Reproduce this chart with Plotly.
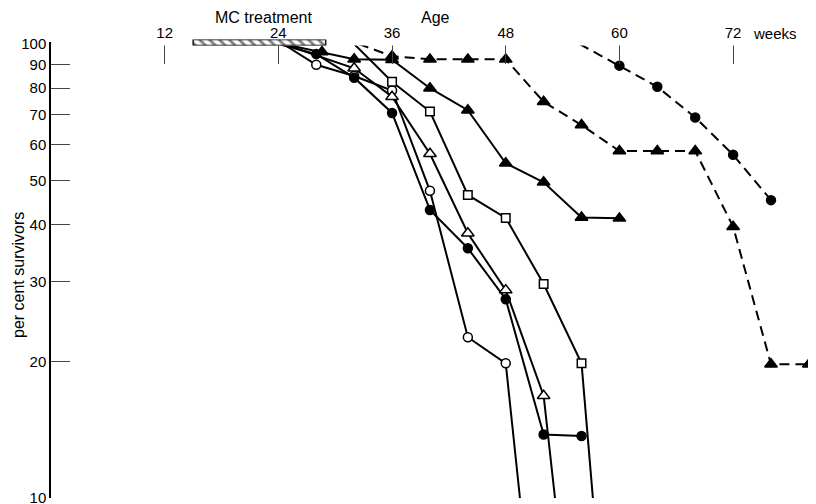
import plotly.graph_objects as go

# ---------------- data ----------------
x_ticks = [12, 24, 36, 48, 60, 72]
y_ticks = [10, 20, 30, 40, 50, 60, 70, 80, 90, 100]
y_ticktext = [str(v) for v in y_ticks]

treat_start = 15   # MC treatment period (weeks)
treat_end = 29

# open circles, solid line
oc_start = 24.5
oc_weeks = [28, 32, 36, 40, 44, 48]
oc_vals = [90, 85, 79, 47.5, 22.6, 19.8]
oc_end = 49.5

# filled circles, solid line
fc_start = 24
fc_weeks = [28, 32, 36, 40, 44, 48, 52, 56]
fc_vals = [95, 84.3, 70.5, 43.1, 35.5, 27.4, 13.8, 13.7]

# open triangles, solid line
ot_start = 24.5
ot_weeks = [32, 36, 40, 44, 48, 52]
ot_vals = [88.4, 76.5, 57.3, 38.3, 28.7, 16.8]
ot_end = 53.2

# open squares, solid line
sq_start = 32
sq_weeks = [36, 40, 44, 48, 52, 56]
sq_vals = [82.6, 71, 46.5, 41.4, 29.6, 19.8]
sq_end = 57.2

# filled triangles, solid line
ft_start = 24.5
ft_weeks = [28.6, 32, 36, 40, 44, 48, 52, 56, 60]
ft_vals = [96, 92.6, 92.3, 79.9, 71.5, 54.6, 49.6, 41.5, 41.3]

# filled triangles, dashed line
dt_start = 32.5
dt_weeks = [36, 40, 44, 48, 52, 56, 60, 64, 68, 72, 76, 80]
dt_vals = [94, 92.5, 92.5, 92.5, 74.6, 66.3, 58.1, 58.1, 58.1, 39.6, 19.7, 19.7]
dt_end = 81.3

# filled circles, dashed line
dc_start = 55.8
dc_weeks = [60, 64, 68, 72, 76]
dc_vals = [89.6, 80.5, 68.9, 57.0, 45.3]

Y_TOP = 100
Y_BOTTOM = 10

FONT = "Liberation Sans, Arial, Helvetica, sans-serif"

fig = go.Figure()

def add_line(xs, ys, dash):
    fig.add_trace(go.Scatter(x=xs, y=ys, mode="lines",
                             line=dict(color="black", width=2, dash=dash),
                             hoverinfo="skip", showlegend=False))

def add_markers(xs, ys, symbol, size, fill):
    fig.add_trace(go.Scatter(x=xs, y=ys, mode="markers",
                             marker=dict(symbol=symbol, size=size, color=fill,
                                         line=dict(color="black", width=1.5)),
                             cliponaxis=False, showlegend=False))

DASH = "10px,6px"
# lines
add_line([oc_start] + oc_weeks + [oc_end], [Y_TOP] + oc_vals + [Y_BOTTOM], "solid")
add_line([ot_start] + ot_weeks + [ot_end], [Y_TOP] + ot_vals + [Y_BOTTOM], "solid")
add_line([sq_start] + sq_weeks + [sq_end], [Y_TOP] + sq_vals + [Y_BOTTOM], "solid")
add_line([fc_start] + fc_weeks, [Y_TOP] + fc_vals, "solid")
add_line([ft_start] + ft_weeks, [Y_TOP] + ft_vals, "solid")
add_line([dt_start] + dt_weeks + [dt_end], [Y_TOP] + dt_vals + [Y_BOTTOM], DASH)
add_line([dc_start] + dc_weeks, [Y_TOP] + dc_vals, DASH)

# markers
add_markers(oc_weeks, oc_vals, "circle", 9, "white")
add_markers(ot_weeks, ot_vals, "triangle-up", 11, "white")
add_markers(sq_weeks, sq_vals, "square", 8.5, "white")
add_markers(ft_weeks, ft_vals, "triangle-up", 11, "black")
add_markers(fc_weeks, fc_vals, "circle", 9, "black")
add_markers(dt_weeks, dt_vals, "triangle-up", 11, "black")
add_markers(dc_weeks, dc_vals, "circle", 9, "black")

# treatment bar (hatched)
fig.add_trace(go.Bar(y=[0], x=[treat_end - treat_start], base=[treat_start],
                     orientation="h", width=1, xaxis="x2", yaxis="y2",
                     marker=dict(color="white",
                                 line=dict(color="black", width=1.3),
                                 pattern=dict(shape="\\", fgcolor="black",
                                              bgcolor="white", size=7,
                                              solidity=0.4)),
                     hoverinfo="skip", showlegend=False))

# The page body has an 8px margin: figure coords = page coords - 8.
W, H = 808, 496
PH = 490.0  # paper height (H - bottom margin)

def py(page_y):
    """paper y fraction from a page pixel row"""
    return (498 - page_y) / PH

fig.update_layout(
    width=W, height=H,
    margin=dict(l=43, r=0, t=0, b=6, pad=0, autoexpand=False),
    paper_bgcolor="white", plot_bgcolor="white",
    font=dict(family=FONT, size=15, color="black"),
    xaxis=dict(range=[0, 80.75], side="top", tickvals=x_ticks,
               ticktext=[str(v) for v in x_ticks],
               ticks="inside", ticklen=20, tickwidth=1, tickcolor="#444",
               showline=True, linecolor="black", linewidth=1.5,
               showgrid=False, zeroline=False, anchor="y", automargin=False,
               ticklabelstandoff=-2, ticklabeloverflow="allow",
               tickfont=dict(size=15)),
    yaxis=dict(type="log", range=[1, 2], domain=[0, py(44)],
               tickvals=y_ticks, ticktext=y_ticktext,
               ticks="inside", ticklen=19, tickwidth=1, tickcolor="#444",
               showline=True, linecolor="black", linewidth=1.5,
               showgrid=False, zeroline=False, anchor="x", automargin=False,
               ticklabeloverflow="allow",
               tickfont=dict(size=15)),
    xaxis2=dict(matches="x", anchor="y2", visible=False, overlaying="x",
                automargin=False),
    yaxis2=dict(range=[-0.5, 0.5], domain=[py(45.5), py(39.5)],
                anchor="x2", visible=False, automargin=False),
    annotations=[
        dict(text="MC treatment", x=22.4, xref="x", y=py(17),
             yref="paper", showarrow=False, xanchor="center", yanchor="middle",
             font=dict(size=16)),
        dict(text="Age", x=40.6, xref="x", y=py(17), yref="paper",
             showarrow=False, xanchor="center", yanchor="middle",
             font=dict(size=16)),
        dict(text="weeks", x=73.9, xref="x", y=py(34), yref="paper",
             showarrow=False, xanchor="left", yanchor="middle",
             font=dict(size=15)),
        dict(text="per cent survivors", x=-33 / 765, xref="paper",
             y=py(275), yref="paper", showarrow=False,
             textangle=-90, xanchor="center", yanchor="middle",
             font=dict(size=16)),
    ],
)

fig.write_html("out.html")
